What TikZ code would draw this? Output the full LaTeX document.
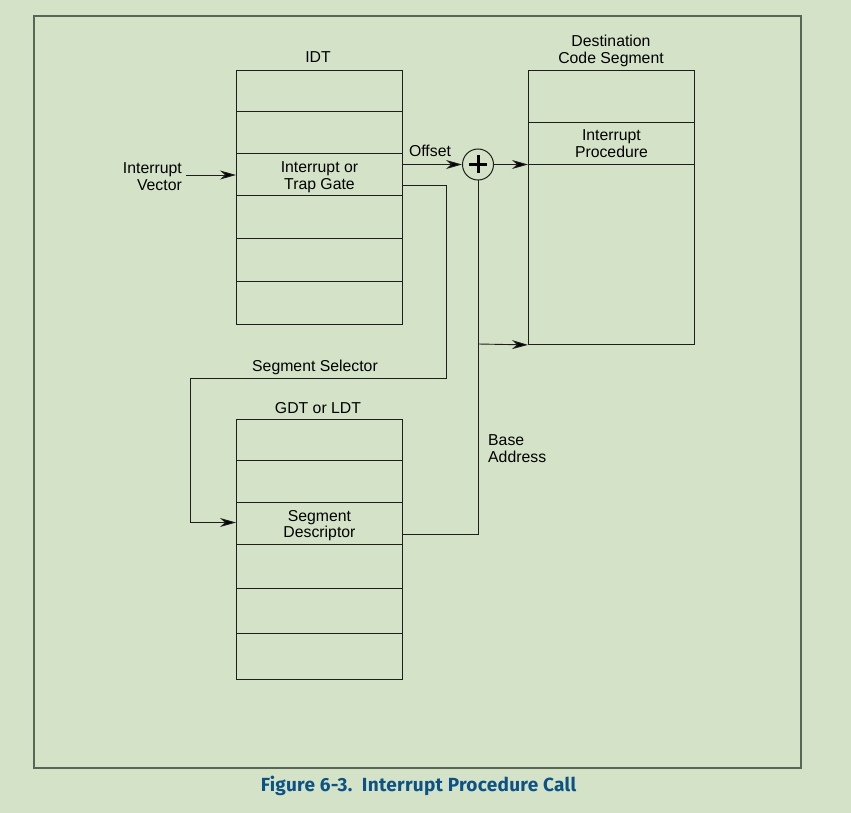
\documentclass[tikz,border=0pt]{standalone}
\usepackage{fontspec}
\setmainfont{Liberation Sans}
\newfontfamily\capfont[LetterSpace=1.5]{Fira Sans}
\usetikzlibrary{arrows.meta,calc}
\definecolor{bgc}{RGB}{212,227,199}
\definecolor{framec}{RGB}{88,102,86}
\definecolor{capc}{RGB}{12,82,132}
\definecolor{linec}{RGB}{30,30,30}
\begin{document}
\begin{tikzpicture}[x=1pt,y=-1pt,
  lbl/.style={font=\fontsize{15.8}{16.5}\selectfont, inner sep=0pt, align=center, text=black},
  row/.style={draw=linec, line width=0.9pt, rectangle, minimum width=166pt, inner sep=0pt, anchor=north west, align=center, font=\fontsize{15.8}{16.5}\selectfont},
  conn/.style={draw=linec, line width=0.9pt},
  arr/.style={conn, -{Stealth[length=16pt,width=9pt,inset=5pt,fill=black]}}
]
\fill[bgc] (0,0) rectangle (851,813);
\useasboundingbox (0,0) rectangle (851,813);
\draw[framec, line width=1.5pt] (34,16) rectangle (801,768);

% IDT
\node[lbl] (idtlbl) at (318,57) {IDT};
\node[row, minimum height=41pt] (i1) at (236,70) {};
\node[row, minimum height=42pt] (i2) at (236,111) {};
\node[row, minimum height=42pt] (i3) at (236,153) {};
\node[lbl] (i3t) at ($(i3.center)+(0,3)$) {Interrupt or\\Trap Gate};
\node[row, minimum height=43pt] (i4) at (236,195) {};
\node[row, minimum height=43pt] (i5) at (236,238) {};
\node[row, minimum height=43pt] (i6) at (236,281) {};

% Destination code segment
\node[lbl] (dlbl) at (611,51) {Destination\\Code Segment};
\node[row, minimum height=52pt] (d1) at (528,70) {};
\node[row, minimum height=42pt] (d2) at (528,122) {Interrupt\\Procedure};
\node[row, minimum height=180pt] (d3) at (528,164) {};

% GDT
\node[lbl] (glbl) at (318,408.5) {GDT or LDT};
\node[row, minimum height=41pt] (g1) at (236,419) {};
\node[row, minimum height=42pt] (g2) at (236,460) {};
\node[row, minimum height=42pt] (g3) at (236,502) {};
\node[lbl] (g3t) at ($(g3.center)+(0,2)$) {Segment\\Descriptor};
\node[row, minimum height=44pt] (g4) at (236,544) {};
\node[row, minimum height=45pt] (g5) at (236,588) {};
\node[row, minimum height=46pt] (g6) at (236,633) {};

% adder
\node[draw=linec, line width=1pt, circle, minimum size=31pt, inner sep=0pt] (plus) at (478,164.5) {};
\draw[black, line width=3pt] ($(plus.center)+(-9,0)$) -- ($(plus.center)+(9,0)$)
  ($(plus.center)+(0,-9)$) -- ($(plus.center)+(0,9)$);

% interrupt vector
\node[lbl, align=right, anchor=east] (vec) at (182,176.5) {Interrupt\\Vector};
\coordinate (vstart) at (186,175);
\draw[arr] (vstart) -- (vstart -| i3.west);

% offset
\node[lbl] (off) at (430,151) {Offset};
\coordinate (offs) at (402,164.5);
\draw[arr] (offs) -- (plus.west);
\draw[arr] (plus.east) -- (plus.east -| d3.west);

% segment selector
\node[lbl] (sel) at (315,367) {Segment Selector};
\coordinate (s0) at (402,185);
\coordinate (s1) at (446.5,185);
\coordinate (s2) at (446.5,378);
\coordinate (s3) at (190,378);
\coordinate (s4) at (190,522.5);
\draw[conn] (s0) -- (s1) -- (s2) -- (s3) -- (s4);
\draw[arr] (s4) -- (s4 -| g3.west);

% base address
\node[lbl, align=left, anchor=west] (base) at (488,448.5) {Base\\Address};
\coordinate (b0) at (402,534);
\coordinate (b1) at (478,534);
\coordinate (b2) at (478,344);
\draw[conn] (b0) -- (b1) -- (plus.south);
\draw[arr] (b2) -- (d3.south west);

% caption
\node[font=\capfont\bfseries\fontsize{19}{21}\selectfont, text=capc, inner sep=0pt] (cap) at (418.5,786) {Figure 6-3.\ \ Interrupt Procedure Call};
\end{tikzpicture}
\end{document}
